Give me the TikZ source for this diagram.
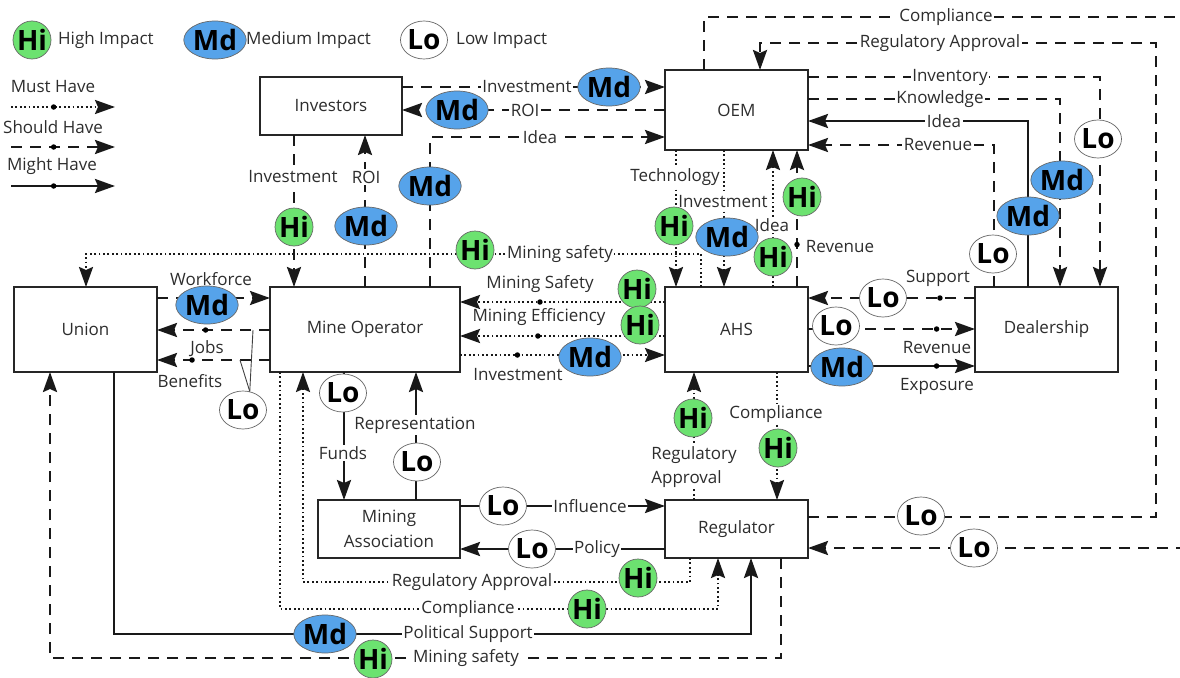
\documentclass[tikz,border=0pt]{standalone}
\usepackage{fontspec}
\setmainfont{Open Sans}
\usetikzlibrary{arrows.meta,shapes.geometric}
\definecolor{hiGreen}{RGB}{108,226,112}
\definecolor{mdBlue}{RGB}{86,163,234}
\definecolor{inkGray}{RGB}{45,45,45}
\begin{document}
\begin{tikzpicture}[x=1pt,y=-1pt,
  every node/.style={font=\fontsize{17}{24}\selectfont, text=inkGray},
  actor/.style={draw=black!85, line width=2.5pt, fill=white, outer sep=0pt, inner sep=0pt},
  lbl/.style={fill=white, inner sep=1.5pt},
  plainlbl/.style={inner sep=1pt},
  must/.style={line width=2.3pt, dash pattern=on 1.8pt off 2.6pt, draw=black!90},
  should/.style={line width=2.6pt, dash pattern=on 11pt off 8pt, draw=black!90},
  might/.style={line width=2.6pt, draw=black!90},
  tip/.style={-{Stealth[length=20pt,width=14pt,inset=3pt]}},
  mdot/.style={circle, fill=black, inner sep=0pt, minimum size=5.5pt},
  badge/.style={draw=black!60, line width=0.7pt, inner sep=0pt, font=\fontsize{28}{28}\bfseries\selectfont, text=black},
  hi/.style={badge, circle, fill=hiGreen, minimum size=38pt},
  md/.style={badge, ellipse, fill=mdBlue, minimum width=52pt, minimum height=38pt},
  lo/.style={badge, ellipse, fill=white, minimum width=47pt, minimum height=38pt},
  thinlink/.style={line width=0.9pt, draw=black!75}
]
\path[use as bounding box] (0,0) rectangle (1180,677);
\clip (0,0) rectangle (1180,677);

% ---------- stakeholders ----------
\node[actor, minimum width=142pt, minimum height=58pt] (investors) at (331,106) {Investors};
\node[actor, minimum width=143pt, minimum height=80pt] (oem) at (736.5,110) {OEM};
\node[actor, minimum width=143pt, minimum height=85pt] (union) at (85.5,329.5) {Union};
\node[actor, minimum width=190pt, minimum height=85pt] (mine) at (365,329.5) {Mine Operator};
\node[actor, minimum width=143pt, minimum height=85pt] (ahs) at (736.5,329.5) {AHS};
\node[actor, minimum width=143pt, minimum height=85pt] (dealer) at (1046.5,329.5) {Dealership};
\node[actor, minimum width=142pt, minimum height=58pt, align=center, font=\fontsize{17}{25}\selectfont] (assoc) at (389,529) {Mining\\Association};
\node[actor, minimum width=143pt, minimum height=58pt] (reg) at (736.5,529) {Regulator};

% ---------- legend ----------
\node[hi] (legHi) at (32,40) {Hi};
\node[anchor=west, inner sep=1pt] (legHiTxt) at (57,40) {High Impact};
\node[md] (legMd) at (215,40) {Md};
\node[anchor=west, inner sep=1pt] (legMdTxt) at (245,40) {Medium Impact};
\node[lo] (legLo) at (424,40) {Lo};
\node[anchor=west, inner sep=1pt] (legLoTxt) at (455,40) {Low Impact};
\node (legMust) at (53,87) {Must Have};
\node (legShould) at (53,127) {Should Have};
\node (legMight) at (52,166) {Might Have};
\coordinate (mustA) at (11,107);   \coordinate (mustB) at (115,107);
\coordinate (shouldA) at (11,147); \coordinate (shouldB) at (115,147);
\coordinate (mightA) at (11,186);  \coordinate (mightB) at (115,186);
\draw[must,tip] (mustA) -- node[mdot,pos=0.41]{} (mustB);
\draw[should,tip] (shouldA) -- node[mdot,pos=0.41]{} (shouldB);
\draw[might,tip] (mightA) -- node[mdot,pos=0.41]{} (mightB);

% ---------- long loops to the regulator ----------
\draw[should,tip] (704,0 |- oem.north) |- (1195,17) |- (reg.east |- 0,548);
\draw[should,tip] (reg.east |- 0,517) -| (1156,43) -| (760,0 |- oem.north);

% ---------- OEM and dealership ----------
\draw[should,tip] (oem.east |- 0,77) -| (1100,0 |- dealer.north);
\draw[should,tip] (oem.east |- 0,99) -| (1060,0 |- dealer.north);
\draw[might,tip] (1028,0 |- dealer.north) |- (oem.east |- 0,121);
\draw[should,tip] (994,0 |- dealer.north) |- (oem.east |- 0,145);

% ---------- investors ----------
\draw[should,tip] (investors.east |- 0,87) -- (oem.west |- 0,87);
\draw[should,tip] (oem.west |- 0,110) -- (investors.east |- 0,110);
\draw[should,tip] (430,0 |- mine.north) |- (oem.west |- 0,137);
\draw[should,tip] (294,0 |- investors.south) -- (294,0 |- mine.north);
\draw[should,tip] (365,0 |- mine.north) -- (365,0 |- investors.south);

% ---------- AHS and OEM ----------
\draw[must,tip] (701,0 |- ahs.north) |- (86,254) -- (86,0 |- union.north);
\draw[must,tip] (676,0 |- oem.south) -- (676,0 |- ahs.north);
\draw[must,tip] (724,0 |- oem.south) -- (724,0 |- ahs.north);
\draw[must,tip] (773,0 |- ahs.north) -- (773,0 |- oem.south);
\draw[should,tip] (797,0 |- ahs.north) -- node[mdot,pos=0.31]{} (797,0 |- oem.south);

% ---------- mine operator and AHS ----------
\draw[must,tip] (ahs.west |- 0,302) -- node[mdot,pos=0.61]{} (mine.east |- 0,302);
\draw[must,tip] (ahs.west |- 0,336) -- node[mdot,pos=0.62]{} (mine.east |- 0,336);
\draw[must,tip] (mine.east |- 0,355) -- node[mdot,pos=0.28]{} (ahs.west |- 0,355);

% ---------- union and mine operator ----------
\draw[should,tip] (union.east |- 0,298) -- (mine.west |- 0,298);
\draw[should,tip] (mine.west |- 0,330) -- node[mdot,pos=0.57]{} (union.east |- 0,330);
\draw[should,tip] (mine.west |- 0,360) -- node[mdot,pos=0.69]{} (union.east |- 0,360);

% ---------- mining association ----------
\draw[might,tip] (344,0 |- mine.south) -- (344,0 |- assoc.north);
\draw[might,tip] (416,0 |- assoc.north) -- (416,0 |- mine.south);
\draw[might,tip] (assoc.east |- 0,506) -- (reg.west |- 0,506);
\draw[might,tip] (reg.west |- 0,549) -- (assoc.east |- 0,549);

% ---------- regulator ----------
\draw[must,tip] (694,0 |- reg.north) -- (694,0 |- ahs.south);
\draw[must,tip] (777,0 |- ahs.south) -- (777,0 |- reg.north);
\draw[must,tip] (690,0 |- reg.south) |- (303,582) -- (303,0 |- mine.south);
\draw[must,tip] (280,0 |- mine.south) |- (718,609) -- (718,0 |- reg.south);
\draw[might,tip] (114,0 |- union.south) |- (751,634) -- (751,0 |- reg.south);
\draw[should,tip] (781,0 |- reg.south) |- (50,658) -- (50,0 |- union.south);

% ---------- AHS and dealership ----------
\draw[should,tip] (dealer.west |- 0,298) -- node[mdot,pos=0.21]{} (ahs.east |- 0,298);
\draw[should,tip] (ahs.east |- 0,329) -- node[mdot,pos=0.77]{} (dealer.west |- 0,329);
\draw[might,tip] (ahs.east |- 0,366) -- node[mdot,pos=0.77]{} (dealer.west |- 0,366);

% ---------- flow labels ----------
\node[lbl] (tCompl) at (946,17) {Compliance};
\node[lbl] (tRegAp) at (940,43) {Regulatory Approval};
\node[lbl] (tInv) at (950,77) {Inventory};
\node[lbl] (tKnow) at (940,99) {Knowledge};
\node[lbl] (tIdeaD) at (944,121) {Idea};
\node[lbl] (tRevD) at (938,145) {Revenue};
\node[lbl] (tInvO) at (527,87) {Investment};
\node[lbl] (tRoiO) at (525,110) {ROI};
\node[lbl] (tIdeaM) at (540,137) {Idea};
\node[lbl] (tInvM) at (293,177) {Investment};
\node[lbl] (tRoiM) at (366,177) {ROI};
\node[lbl] (tSafeU) at (560,254) {Mining safety};
\node[lbl] (tTech) at (675,177) {Technology};
\node[lbl] (tInvA) at (723,202) {Investment};
\node[lbl] (tIdeaA) at (772,225) {Idea};
\node[plainlbl] (tRevA) at (840,247) {Revenue};
\node[plainlbl] (tSafeM) at (540,284) {Mining Safety};
\node[plainlbl] (tEff) at (539,317) {Mining Efficiency};
\node[plainlbl] (tInvMA) at (518,375) {Investment};
\node[plainlbl] (tWork) at (211,279) {Workforce};
\node[plainlbl] (tJobs) at (207,349) {Jobs};
\node[plainlbl] (tBen) at (190,381) {Benefits};
\node[lbl] (tFunds) at (343,453) {Funds};
\node[lbl] (tRep) at (415,425) {Representation};
\node[lbl] (tInfl) at (590,506) {Influence};
\node[lbl] (tPol) at (597,549) {Policy};
\node[lbl, align=left] (tRegApA) at (694,467) {Regulatory\\Approval};
\node[lbl] (tComplA) at (776,414) {Compliance};
\node[lbl] (tRegApM) at (472,582) {Regulatory Approval};
\node[lbl] (tComplM) at (468,609) {Compliance};
\node[lbl] (tPolit) at (468,634) {Political Support};
\node[lbl] (tSafeR) at (466,658) {Mining safety};
\node[plainlbl] (tSupp) at (938,278) {Support};
\node[plainlbl] (tRevDl) at (937,348) {Revenue};
\node[plainlbl] (tExpo) at (937,386) {Exposure};

% ---------- impact ratings ----------
\node[hi] (h1) at (294,227) {Hi};
\node[hi] (h2) at (475,250) {Hi};
\node[hi] (h3) at (674,226) {Hi};
\node[hi] (h4) at (802,197) {Hi};
\node[hi] (h5) at (773,257) {Hi};
\node[hi] (h6) at (637,289) {Hi};
\node[hi] (h7) at (640,325) {Hi};
\node[hi] (h8) at (693,418) {Hi};
\node[hi] (h9) at (778,448) {Hi};
\node[hi] (h10) at (638,578) {Hi};
\node[hi] (h11) at (587,609) {Hi};
\node[hi] (h12) at (373,659) {Hi};

\node[md] (m1) at (609,87) {Md};
\node[md] (m2) at (457,110) {Md};
\node[md] (m3) at (430,186) {Md};
\node[md] (m4) at (366,226) {Md};
\node[md] (m5) at (727,237) {Md};
\node[md] (m6) at (590,357) {Md};
\node[md] (m7) at (207,305) {Md};
\node[md] (m8) at (842,367) {Md};
\node[md] (m9) at (1062,180) {Md};
\node[md] (m10) at (1028,216) {Md};
\node[md] (m11) at (325,634) {Md};

\node[lo] (l1) at (1098,139) {Lo};
\node[lo] (l2) at (993,254) {Lo};
\node[lo] (l3) at (883,298) {Lo};
\node[lo] (l4) at (836,326) {Lo};
\node[lo] (lojb) at (243,410) {Lo};
\node[lo] (l6) at (343,393) {Lo};
\node[lo] (l7) at (417,462) {Lo};
\node[lo] (l8) at (503,506) {Lo};
\node[lo] (l9) at (532,549) {Lo};
\node[lo] (l10) at (921,516) {Lo};
\node[lo] (l11) at (974,548) {Lo};

% rating shared by the jobs and benefits flows
\coordinate (jobsTap) at (253,330);
\coordinate (benTap) at (240,360);
\draw[thinlink] (jobsTap) -- (lojb.70);
\draw[thinlink] (benTap) -- (lojb.70);
\end{tikzpicture}
\end{document}
